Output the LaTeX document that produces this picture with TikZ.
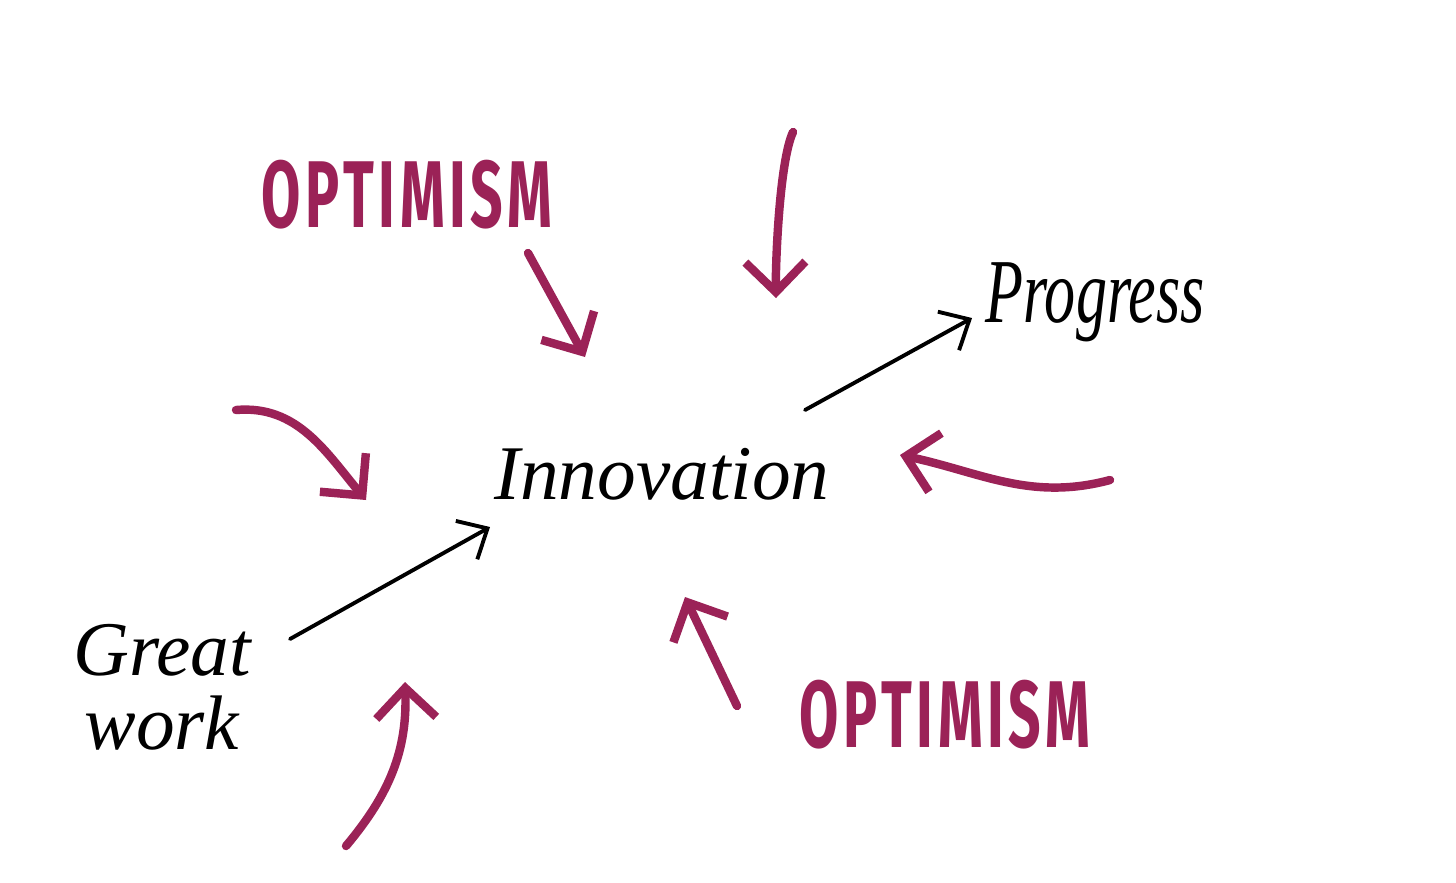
\documentclass[tikz,border=0pt]{standalone}
\usepackage{fontspec}
\setmainfont{Liberation Serif}
\newfontfamily\capsfont[FakeStretch=0.6,LetterSpace=5]{Fira Sans}
\newfontfamily\narrowhand[FakeStretch=0.68]{Liberation Serif}
\usetikzlibrary{arrows.meta}
\definecolor{optimred}{HTML}{9B2257}
\begin{document}
\begin{tikzpicture}
  % Define word and arrow styles
  \tikzstyle{handword} = [text=black, inner sep=2pt]
  \tikzstyle{capsword} = [text=optimred, inner sep=2pt,
  font=\capsfont\bfseries\fontsize{27}{27}\selectfont]
  \tikzstyle{blackarrow} = [draw=black, line width=1.1pt, line cap=round,
  -{Straight Barb[length=2.4mm,width=4.4mm]}]
  \tikzstyle{redarrow} = [draw=optimred, line width=2.4pt, line cap=round,
  -{Straight Barb[length=3mm,width=6mm]}]

  \useasboundingbox (0,0) rectangle (14.56,8.82);

  % Words
  \node[handword, font=\itshape\fontsize{22}{22}\selectfont] (innov) at (6.62,4.08) {Innovation};
  \node[handword, font=\narrowhand\itshape\fontsize{26}{26}\selectfont] (progress) at (10.95,5.80) {Progress};
  \node[handword, align=center, font=\itshape\fontsize{22}{21}\selectfont] (great) at (1.62,1.95) {Great\\work};
  \node[capsword] (opttop) at (4.07,6.87) {OPTIMISM};
  \node[capsword] (optbot) at (9.45,1.67) {OPTIMISM};

  % Free ends of the red arrows
  \coordinate (topstart) at (7.93,7.50);
  \coordinate (topend) at (7.76,5.84);
  \coordinate (leftstart) at (2.36,4.72);
  \coordinate (leftend) at (3.66,3.82);
  \coordinate (rightstart) at (11.10,4.02);
  \coordinate (rightend) at (9.00,4.27);
  \coordinate (lowstart) at (3.46,0.36);
  \coordinate (lowend) at (4.05,2.00);

  % Black arrows
  \draw[blackarrow] ([shift={(1.28,0.48)}]great.center) -- ([shift={(-1.72,-0.53)}]innov.center);
  \draw[blackarrow] ([shift={(1.43,0.64)}]innov.center) -- ([shift={(-1.23,-0.16)}]progress.center);

  % Red arrows
  \draw[redarrow] ([shift={(1.21,-0.58)}]opttop.center) -- ([shift={(-0.77,1.17)}]innov.center);
  \draw[redarrow] (topstart) to[out=245,in=91,looseness=0.5] (topend);
  \draw[redarrow] (leftstart) to[out=5,in=130] (leftend);
  \draw[redarrow] (rightstart) to[out=195,in=-12] (rightend);
  \draw[redarrow] ([shift={(-2.08,0.09)}]optbot.center) -- ([shift={(0.23,-1.23)}]innov.center);
  \draw[redarrow] (lowstart) to[out=50,in=-88] (lowend);
\end{tikzpicture}
\end{document}
